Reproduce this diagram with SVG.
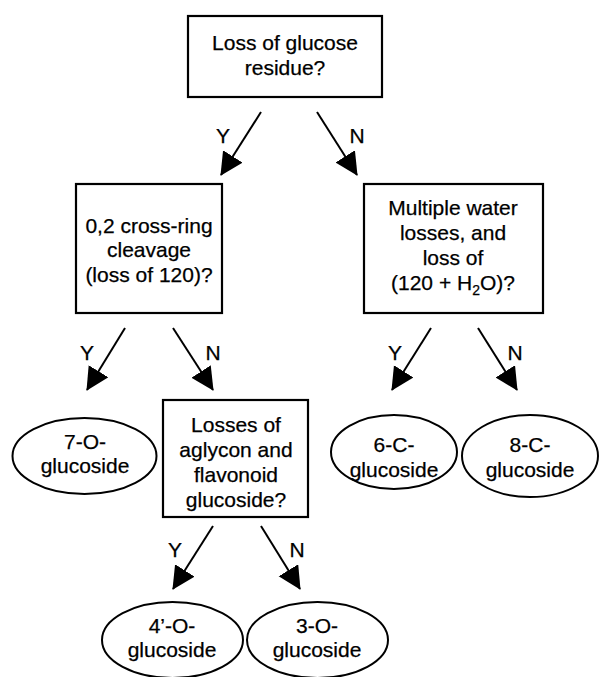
<svg xmlns="http://www.w3.org/2000/svg" width="600" height="677" viewBox="0 0 600 677">
<defs>
<marker id="ah" markerUnits="userSpaceOnUse" markerWidth="25" markerHeight="25" refX="22" refY="11.5" orient="auto" viewBox="0 0 25 25">
<path d="M0,0 L23,11.5 L0,23 z" fill="#000"/>
</marker>
<style>
text{font-family:"Liberation Sans",Arial,sans-serif;font-size:21px;fill:#000;stroke:#000;stroke-width:0.25;text-anchor:middle}
.box{fill:#fff;stroke:#000;stroke-width:2.2}
.ell{fill:#fff;stroke:#000;stroke-width:2}
.con line{stroke:#000;stroke-width:2;marker-end:url(#ah)}
</style>
</defs>
<rect width="600" height="677" fill="#fff"/>
<g id="q1">
<rect class="box" x="188" y="16" width="194" height="81"/>
<text x="285" y="50">Loss of glucose</text>
<text x="285" y="75">residue?</text>
</g>
<g id="q2">
<rect class="box" x="76" y="184" width="146" height="129"/>
<text x="149" y="233">0,2 cross-ring</text>
<text x="149" y="257">cleavage</text>
<text x="149" y="282">(loss of 120)?</text>
</g>
<g id="q3">
<rect class="box" x="364" y="184" width="179" height="129"/>
<text x="453" y="215">Multiple water</text>
<text x="453" y="240">losses, and</text>
<text x="453" y="265">loss of</text>
<text x="453" y="290">(120 + H<tspan font-size="14" dy="5">2</tspan><tspan dy="-5">O)?</tspan></text>
</g>
<g id="q4">
<rect class="box" x="163" y="400" width="145" height="117"/>
<text x="236" y="432">Losses of</text>
<text x="236" y="457">aglycon and</text>
<text x="236" y="482">flavonoid</text>
<text x="236" y="507">glucoside?</text>
</g>
<g id="r7O">
<ellipse class="ell" cx="84.5" cy="456" rx="72" ry="38"/>
<text x="85" y="449">7-O-</text>
<text x="85" y="473">glucoside</text>
</g>
<g id="r6C">
<ellipse class="ell" cx="394" cy="452" rx="63" ry="37"/>
<text x="394" y="452">6-C-</text>
<text x="394" y="477">glucoside</text>
</g>
<g id="r8C">
<ellipse class="ell" cx="530" cy="456" rx="68" ry="41"/>
<text x="530" y="452">8-C-</text>
<text x="530" y="477">glucoside</text>
</g>
<g id="r4O">
<ellipse class="ell" cx="172.5" cy="640" rx="70.5" ry="38"/>
<text x="172" y="633">4’-O-</text>
<text x="172" y="657">glucoside</text>
</g>
<g id="r3O">
<ellipse class="ell" cx="317.5" cy="640" rx="70.5" ry="38"/>
<text x="317" y="633">3-O-</text>
<text x="317" y="657">glucoside</text>
</g>
<g id="connectors" class="con">
<line x1="261" y1="112" x2="221" y2="175"/>
<line x1="317" y1="112" x2="357" y2="175"/>
<line x1="125" y1="328" x2="87" y2="390"/>
<line x1="173" y1="328" x2="213" y2="390"/>
<line x1="431" y1="328" x2="392" y2="390"/>
<line x1="478" y1="328" x2="517" y2="390"/>
<line x1="213" y1="526" x2="173" y2="589"/>
<line x1="261" y1="526" x2="300" y2="589"/>
<text x="223" y="143">Y</text>
<text x="357" y="143">N</text>
<text x="87" y="360">Y</text>
<text x="213" y="360">N</text>
<text x="395" y="360">Y</text>
<text x="515" y="360">N</text>
<text x="175" y="557">Y</text>
<text x="297" y="557">N</text>
</g>
</svg>
